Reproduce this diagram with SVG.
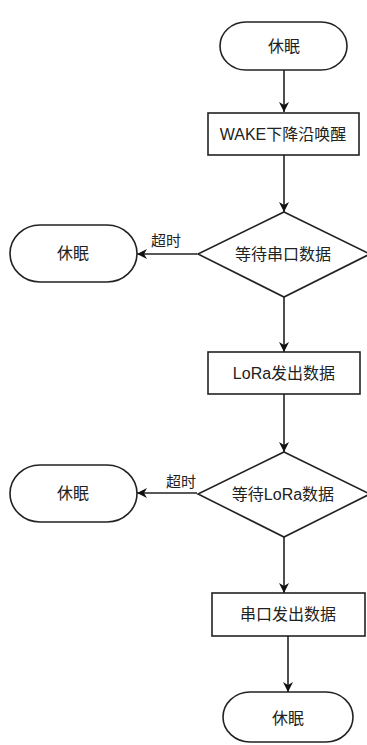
<svg xmlns="http://www.w3.org/2000/svg" width="367" height="745" viewBox="0 0 367 745">
<style>
.s{fill:#fff;stroke:#222;stroke-width:1.6}
.t{font-family:"Liberation Sans","Noto Sans CJK SC",sans-serif;font-size:16px;fill:#222;text-anchor:middle;dominant-baseline:central}
.c{fill:none;stroke:#222;stroke-width:1.6;marker-end:url(#a)}
.l{font-family:"Liberation Sans","Noto Sans CJK SC",sans-serif;font-size:15px;fill:#222;text-anchor:middle;dominant-baseline:central}
</style>
<defs>
<marker id="a" viewBox="0 0 10 10" refX="10" refY="5" markerWidth="11" markerHeight="10" orient="auto" markerUnits="userSpaceOnUse">
<path d="M0,0 L10,5 L0,10 L3,5 Z" fill="#111"/>
</marker>
</defs>
<rect width="367" height="745" fill="#fff"/>
<g id="connectors">
<path class="c" d="M284,70 V112"/>
<path class="c" d="M284,155 V212"/>
<path class="c" d="M197,254 H137"/>
<text class="l" x="166" y="240">超时</text>
<path class="c" d="M284,297 V352"/>
<path class="c" d="M284,394 V452"/>
<path class="c" d="M197,493 H137"/>
<text class="l" x="181" y="481">超时</text>
<path class="c" d="M284,537 V593"/>
<path class="c" d="M288,636 V692"/>
</g>
<g id="start">
<rect class="s" x="220" y="22" width="127" height="48" rx="26" ry="24"/>
<text class="t" x="284" y="46">休眠</text>
</g>
<g id="wake">
<rect class="s" x="208" y="113" width="151" height="42"/>
<text class="t" x="283" y="134">WAKE下降沿唤醒</text>
</g>
<g id="wait-uart">
<polygon class="s" points="284,212 370,254 284,297 198,254"/>
<text class="t" x="283" y="254">等待串口数据</text>
</g>
<g id="sleep1">
<rect class="s" x="10" y="225" width="127" height="57" rx="30" ry="28.5"/>
<text class="t" x="73" y="253">休眠</text>
</g>
<g id="lora-send">
<rect class="s" x="208" y="352" width="152" height="42"/>
<text class="t" x="284" y="373">LoRa发出数据</text>
</g>
<g id="wait-lora">
<polygon class="s" points="284,452 370,494 284,537 198,494"/>
<text class="t" x="283" y="494">等待LoRa数据</text>
</g>
<g id="sleep2">
<rect class="s" x="10" y="465" width="127" height="57" rx="30" ry="28.5"/>
<text class="t" x="73" y="493">休眠</text>
</g>
<g id="uart-send">
<rect class="s" x="212" y="593" width="153" height="43"/>
<text class="t" x="288" y="614">串口发出数据</text>
</g>
<g id="end">
<rect class="s" x="223" y="692" width="130" height="50" rx="27" ry="25"/>
<text class="t" x="288" y="718">休眠</text>
</g>
</svg>
